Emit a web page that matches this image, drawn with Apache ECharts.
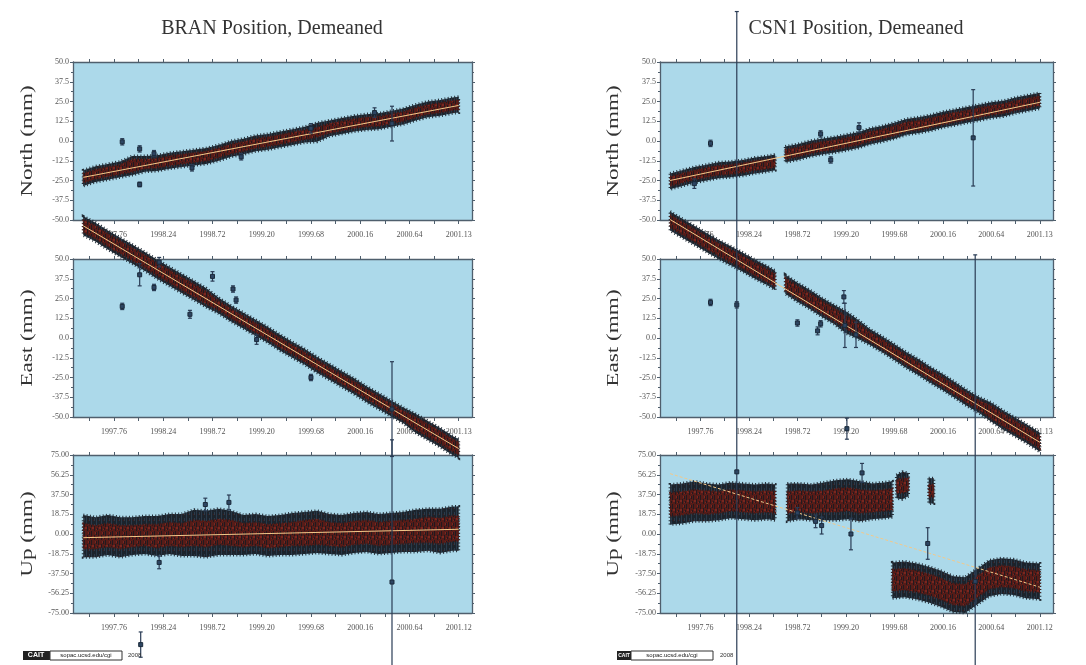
<!DOCTYPE html>
<html><head><meta charset="utf-8">
<script src="https://cdn.jsdelivr.net/npm/echarts@6/dist/echarts.min.js"></script>
<style>html,body{margin:0;padding:0;background:#fff}#c{width:1086px;height:665px}</style>
</head><body><div id="c"></div>
<script>
// ---------- axis ticks / labels ----------
const xTickValues = [1997.52,1997.76,1998.00,1998.24,1998.48,1998.72,1998.96,1999.20,1999.44,1999.68,1999.92,2000.16,2000.40,2000.64,2000.88,2001.12];
const xLabelValues = [1997.76,1998.24,1998.72,1999.20,1999.68,2000.16,2000.64,2001.12];
const xLabelsNE = ['1997.76','1998.24','1998.72','1999.20','1999.68','2000.16','2000.64','2001.13'];
const xLabelsUp = ['1997.76','1998.24','1998.72','1999.20','1999.68','2000.16','2000.64','2001.12'];
const titles = ['BRAN Position, Demeaned','CSN1 Position, Demeaned'];
const compNames = ['North (mm)','East (mm)','Up (mm)'];

// ---------- BRAN (dense daily solutions, read as band: centre, point spread, error-bar spread) ----------
const branT = [1997.46,1997.58,1997.70,1997.82,1997.94,1998.06,1998.18,1998.30,1998.42,1998.54,1998.66,1998.78,1998.90,1999.02,1999.14,1999.26,1999.38,1999.50,1999.62,1999.74,1999.86,1999.98,2000.10,2000.22,2000.34,2000.46,2000.58,2000.70,2000.82,2000.94,2001.06,2001.12];
const branNorthMid = [-23.5,-21,-19.5,-18,-15.5,-14.5,-14,-12.5,-11.5,-10.5,-9.5,-7.5,-5,-3.5,-1.5,-0.5,1,2.5,4,5.5,8,9.5,11,12,12.5,14,15.5,18,20,21,22.5,23];
const branNorthPts = [3,3,3,3,4,3,3,3,3,3,3,3,3,3,3,3,3,3,3,3,3,3,3,3,3,3,3,3,3,3,3,3];
const branNorthBar = [5,5,5,5,6,5,5,5,5,5,5,5,5,5,5,5,5,5,5,6,5,5,5,5,5,5,5,5,5,5,5,5];
const branEastMid = [71,67,62,57.5,53,48.5,43.5,39,34.5,30,25.5,20.5,15.5,11,6.5,2,-3,-7.5,-12,-17,-21.5,-26,-30.5,-35.5,-40,-44.5,-49,-54,-58.5,-63,-68,-70];
const branEastPts = [4,4,4,4,4,4,4,4,4,4,4,3,3,3,3,3,3,3,3,3,3,3,3,3,3,3,3,4,4,4,4,4];
const branEastBar = [6,6,6,6,6,6,6,6,6,6,6,5,5,5,5,5,5,5,5,5,5,5,5,5,5,5,5,6,6,6,6,6];
const branUpMid = [-2,-3,-1,-3,-2,-1,-2,0,-1,1,0,2,1,-1,0,-2,-1,0,1,2,0,-1,1,2,0,1,2,3,4,3,5,5];
const branUpPts = [12,11,11,11,10,10,11,11,11,12,12,12,12,11,11,11,11,11,12,12,11,11,11,11,11,11,11,11,12,12,12,12];
const branUpBar = [20,19,19,19,18,18,19,19,20,22,22,22,21,19,19,19,19,20,20,20,19,19,19,19,19,19,19,20,20,21,21,21];
const branNorthFit = [[1997.46,-23],[2001.12,22.5]];
const branEastFit = [[1997.46,71],[2001.12,-70]];
const branUpFit = [[1997.46,-3.5],[2001.12,4.5]];
// outliers [time, value, error]
const branNorthOut = [[1997.84,-0.5,2],[1998.01,-27.5,1.5],[1998.01,-5,2],[1998.15,-8,2],[1998.52,-17,2],[1999.00,-10,2],[1999.68,8,3],[2000.30,18,3],[2000.47,11,11]];
const branEastOut = [[1997.84,20,2],[1998.01,40,7],[1998.15,32,2],[1998.20,48,3],[1998.50,15,2.5],[1998.72,39,3],[1998.92,31,2],[1998.95,24,2],[1999.15,-1,3],[1999.68,-25,2],[2000.47,-45,30]];
const branUpOut = [[1998.20,-27,6],[1998.65,28,6],[1998.88,30,7],[1998.02,-105,12],[2000.47,-45.6,135]];

// ---------- CSN1 ----------
const csnT = [1997.46,1997.58,1997.70,1997.82,1997.94,1998.06,1998.18,1998.30,1998.42,1998.50,null,1998.60,1998.72,1998.84,1998.96,1999.08,1999.20,1999.32,1999.44,1999.56,1999.68,1999.80,1999.92,2000.04,2000.16,2000.28,2000.40,2000.52,2000.64,2000.76,2000.88,2001.00,2001.12];
const csnNorthMid = [-25.5,-23.5,-21.5,-20,-18.5,-18,-17,-15.5,-14.5,-13.5,null,-8.5,-7,-5,-3.5,-2.5,-1,0.5,3,4.5,6.5,9,10,11.5,13.5,15,16.5,18,19.5,20.5,22.5,24,25.5];
const csnNorthPts = [3,3,3,3,3,3,3,3,3,3,null,3,3,3,3,3,3,3,3,3,3,3,3,3,3,3,3,3,3,3,3,3,3];
const csnNorthBar = [5,5,5,5,5,5,5,5,5,5,null,5,5,5,5,5,5,5,5,5,5,5,5,5,5,5,5,5,5,5,5,5,5];
const csnEastMid = [74,69.5,65,60.5,56,52,48,43.5,39.5,36.5,null,34,29,24.5,19.5,15,10,5.5,0.5,-4,-9,-14,-18.5,-23.5,-28,-33,-38,-42.5,-47,-52,-56.5,-61,-66];
const csnEastPts = [4,4,4,4,4,4,4,4,4,4,null,4,4,4,4,4,4,4,3,3,3,3,3,3,3,3,3,3,4,4,4,4,4];
const csnEastBar = [6,6,6,6,6,6,6,6,6,6,null,6,6,6,6,6,7,6,5,5,5,5,5,5,5,5,5,5,6,6,6,6,6];
const csnUpT = [1997.46,1997.58,1997.70,1997.82,1997.94,1998.06,1998.18,1998.30,1998.42,1998.50,null,1998.62,1998.74,1998.86,1998.98,1999.10,1999.22,1999.34,1999.46,1999.58,1999.66,null,1999.70,1999.76,1999.82,null,2000.02,2000.07,null,1999.66,1999.78,1999.90,2000.02,2000.14,2000.26,2000.38,2000.50,2000.62,2000.74,2000.86,2000.98,2001.12];
const csnUpMid = [28,29,31,30,30,32,31,30,31,30,null,30,31,30,31,32,33,31,31,32,33,null,45,46,47,null,41,41,null,-44,-43,-45,-48,-52,-57,-58,-50,-42,-40,-41,-44,-45];
const csnUpPts = [11,11,11,11,10,10,10,10,10,10,null,10,10,10,10,11,11,11,10,10,10,null,6,7,6,null,6,6,null,10,10,10,10,10,10,10,10,10,10,10,10,10];
const csnUpBar = [19,19,19,18,17,17,17,17,17,17,null,18,17,17,18,19,19,19,17,17,17,null,11,13,11,null,12,12,null,17,17,17,17,17,17,17,17,17,17,17,17,17];
const csnNorthFit = [[1997.46,-25],[2001.12,24.5]];
const csnEastFit = [[1997.46,75],[2001.12,-66]];
const csnUpFit = [[1997.46,57.3],[2001.12,-50.5]];
const csnNorthOut = [[1997.86,-1.5,2],[1997.70,-27,3],[1998.95,4.5,2],[1999.05,-12,2],[1999.33,8.5,3],[2000.46,2,30.5]];
const csnEastOut = [[1997.86,22.5,2],[1998.12,21,2],[1998.72,9.5,2],[1998.92,4.5,2.5],[1998.95,9,2],[1999.18,26,4],[1999.19,8,14],[1999.30,2,8]];
const csnUpOut = [[1998.12,59,437],[1998.72,20,5],[1998.90,12,6],[1998.96,8,8],[1999.25,0,15],[1999.36,58,9],[1999.21,100,10],[2000.01,-9,15],[2000.48,-45,310]];

// ---------- build ----------
const cols = [
  {left:73, width:399, title:titles[0], tx:272, nameX:28,
   panels:[
     {T:branT, mid:branNorthMid, pts:branNorthPts, bar:branNorthBar, fit:branNorthFit, out:branNorthOut, kind:'NE', labels:xLabelsNE},
     {T:branT, mid:branEastMid, pts:branEastPts, bar:branEastBar, fit:branEastFit, out:branEastOut, kind:'NE', labels:xLabelsNE},
     {T:branT, mid:branUpMid, pts:branUpPts, bar:branUpBar, fit:branUpFit, out:branUpOut, kind:'U', labels:xLabelsUp}]},
  {left:660, width:393, title:titles[1], tx:856, nameX:614,
   panels:[
     {T:csnT, mid:csnNorthMid, pts:csnNorthPts, bar:csnNorthBar, fit:csnNorthFit, out:csnNorthOut, kind:'NE', labels:xLabelsNE},
     {T:csnT, mid:csnEastMid, pts:csnEastPts, bar:csnEastBar, fit:csnEastFit, out:csnEastOut, kind:'NE', labels:xLabelsNE},
     {T:csnUpT, mid:csnUpMid, pts:csnUpPts, bar:csnUpBar, fit:csnUpFit, out:csnUpOut, kind:'U', labels:xLabelsUp, dashed:true}]}
];
const tops = [62,259,455];
const H = 158;
const axisColor = '#4f5f6d';
const labelStyle = {fontFamily:'Liberation Serif', fontSize:8, color:'#555'};

// texture patterns (styling only)
function innerPattern(){
  const c = document.createElement('canvas'); c.width = 7; c.height = 9;
  const g = c.getContext('2d');
  g.fillStyle = '#561c18'; g.fillRect(0,0,7,9);
  g.fillStyle = '#221a1f'; g.fillRect(0,0,1,5); g.fillRect(3,4,1,5); g.fillRect(5,1,1,3); g.fillRect(6,6,1,2);
  g.fillStyle = '#7a2720'; g.fillRect(1,5,2,2); g.fillRect(4,1,1,2); g.fillRect(5,7,1,1);
  return c;
}
function outerPattern(){
  const c = document.createElement('canvas'); c.width = 5; c.height = 6;
  const g = c.getContext('2d');
  g.fillStyle = '#1c232b'; g.fillRect(0,0,5,6);
  g.fillStyle = '#2a3a4a'; g.fillRect(1,0,1,6); g.fillRect(4,2,1,3);
  g.fillStyle = '#3e1e1d'; g.fillRect(3,4,1,1);
  return c;
}
const patIn = innerPattern(), patOut = outerPattern();

function segments(T){
  const segs=[]; let cur=[];
  T.forEach((t,i)=>{ if(t==null){ if(cur.length) segs.push(cur); cur=[]; } else cur.push(i); });
  if(cur.length) segs.push(cur);
  return segs;
}

const grid=[], xAxis=[], yAxis=[], series=[], graphic=[];
let gi = 0;
cols.forEach((col)=>{
  graphic.push({type:'text', x:col.tx, y:29, style:{text:col.title, font:'20px "Liberation Serif"', fill:'#333', align:'center', verticalAlign:'middle'}, z:10});
  col.panels.forEach((p,pi)=>{
    const isU = p.kind==='U';
    grid.push({left:col.left, top:tops[pi], width:col.width, height:H, show:true, backgroundColor:'#acd9ea', borderWidth:0});
    xAxis.push({type:'value', gridIndex:gi, position:'bottom', min:1997.36, max:2001.25,
      axisLine:{show:true, onZero:false, lineStyle:{color:axisColor, width:1.3}},
      axisTick:{show:true, inside:false, length:4, customValues:xTickValues, lineStyle:{color:axisColor}},
      axisLabel:{show:true, margin:11, customValues:xLabelValues, ...labelStyle,
        formatter:(v)=>{ const k = xLabelValues.findIndex(a=>Math.abs(a-v)<1e-6); return k<0?'':p.labels[k]; }},
      splitLine:{show:false}});
    xAxis.push({type:'value', gridIndex:gi, position:'top', min:1997.36, max:2001.25,
      axisLine:{show:true, onZero:false, lineStyle:{color:axisColor, width:1.3}},
      axisTick:{show:true, inside:false, length:3, customValues:xTickValues, lineStyle:{color:axisColor}},
      axisLabel:{show:false}, splitLine:{show:false}});
    const ymin = isU?-75:-50, ymax = isU?75:50, yint = isU?18.75:12.5;
    yAxis.push({type:'value', gridIndex:gi, position:'left', min:ymin, max:ymax, interval:yint,
      axisLine:{show:true, onZero:false, lineStyle:{color:axisColor, width:1.3}},
      axisTick:{show:true, length:3, lineStyle:{color:axisColor}},
      minorTick:{show:true, splitNumber:2, length:2, lineStyle:{color:axisColor}},
      axisLabel:{margin:4, ...labelStyle, formatter:(v)=>v.toFixed(isU?2:1)},
      splitLine:{show:false}});
    yAxis.push({type:'value', gridIndex:gi, position:'right', min:ymin, max:ymax, interval:yint,
      axisLine:{show:true, onZero:false, lineStyle:{color:axisColor, width:1.3}},
      axisTick:{show:true, length:3, lineStyle:{color:axisColor}},
      minorTick:{show:true, splitNumber:2, length:2, lineStyle:{color:axisColor}},
      axisLabel:{show:false}, splitLine:{show:false}});
    const xi = 2*gi, yi = 2*gi;
    // band of daily solutions
    const segs = segments(p.T);
    series.push({type:'custom', xAxisIndex:xi, yAxisIndex:yi, clip:false, z:3, silent:true,
      data:[[p.T[0], p.mid[0]]],
      renderItem:(params, api)=>{
        const children=[];
        segs.forEach(s=>{
          const outer=[], inner=[];
          s.forEach(i=>outer.push(api.coord([p.T[i], p.mid[i]+p.bar[i]])));
          for(let j=s.length-1;j>=0;j--){const i=s[j]; outer.push(api.coord([p.T[i], p.mid[i]-p.bar[i]]));}
          s.forEach(i=>inner.push(api.coord([p.T[i], p.mid[i]+p.pts[i]])));
          for(let j=s.length-1;j>=0;j--){const i=s[j]; inner.push(api.coord([p.T[i], p.mid[i]-p.pts[i]]));}
          children.push({type:'polygon', shape:{points:outer}, style:{fill:{image:patOut, repeat:'repeat'}, stroke:'#222c36', lineWidth:3, lineDash:[1,2.3]}});
          children.push({type:'polygon', shape:{points:inner}, style:{fill:{image:patIn, repeat:'repeat'}, stroke:'#4e1b17', lineWidth:2, lineDash:[1,2]}});
        });
        return {type:'group', children};
      }});
    // fit line
    series.push({type:'line', xAxisIndex:xi, yAxisIndex:yi, data:p.fit, symbol:'none', clip:false, z:4, silent:true,
      lineStyle:{color:'#f3c98a', width:1, type:p.dashed?[3,2]:'solid'}});
    // outliers with error bars
    series.push({type:'custom', xAxisIndex:xi, yAxisIndex:yi, clip:false, z:5, silent:true,
      data:p.out,
      renderItem:(params, api)=>{
        const t=api.value(0), v=api.value(1), e=api.value(2);
        const a=api.coord([t, v+e]), b=api.coord([t, v-e]), c=api.coord([t, v]);
        return {type:'group', children:[
          {type:'line', shape:{x1:a[0],y1:a[1],x2:b[0],y2:b[1]}, style:{stroke:'#2a3c55', lineWidth:1.2}},
          {type:'line', shape:{x1:a[0]-2,y1:a[1],x2:a[0]+2,y2:a[1]}, style:{stroke:'#2a3c55', lineWidth:1.2}},
          {type:'line', shape:{x1:b[0]-2,y1:b[1],x2:b[0]+2,y2:b[1]}, style:{stroke:'#2a3c55', lineWidth:1.2}},
          {type:'rect', shape:{x:c[0]-2,y:c[1]-2,width:4,height:4}, style:{fill:'#2d4562', stroke:'#1b2a3a', lineWidth:1}}
        ]};
      }});
    // component name
    graphic.push({type:'text', x:col.nameX, y:tops[pi]+H/2, rotation:Math.PI/2, scaleX:1.45, scaleY:1,
      style:{text:compNames[pi], font:'16px "Liberation Serif"', fill:'#333', align:'center', verticalAlign:'middle'}, z:10});
    gi++;
  });
});

// small logos at the bottom
graphic.push(
  {type:'rect', shape:{x:23,y:651,width:27,height:9}, style:{fill:'#222'}, z:10},
  {type:'text', x:36, y:655.5, style:{text:'CAIT', font:'bold 7px "Liberation Sans"', fill:'#fff', align:'center', verticalAlign:'middle'}, z:11},
  {type:'rect', shape:{x:50,y:651,width:72,height:9}, style:{fill:'#fff', stroke:'#333', lineWidth:1}, z:10},
  {type:'text', x:86, y:655.5, style:{text:'sopac.ucsd.edu/cgi', font:'6px "Liberation Sans"', fill:'#222', align:'center', verticalAlign:'middle'}, z:11},
  {type:'text', x:128, y:655.5, style:{text:'2008', font:'6px "Liberation Sans"', fill:'#333', align:'left', verticalAlign:'middle'}, z:11},
  {type:'rect', shape:{x:617,y:651,width:14,height:9}, style:{fill:'#222'}, z:10},
  {type:'text', x:624, y:655.5, style:{text:'CAIT', font:'bold 5px "Liberation Sans"', fill:'#fff', align:'center', verticalAlign:'middle'}, z:11},
  {type:'rect', shape:{x:631,y:651,width:82,height:9}, style:{fill:'#fff', stroke:'#333', lineWidth:1}, z:10},
  {type:'text', x:672, y:655.5, style:{text:'sopac.ucsd.edu/cgi', font:'6px "Liberation Sans"', fill:'#222', align:'center', verticalAlign:'middle'}, z:11},
  {type:'text', x:720, y:655.5, style:{text:'2008', font:'6px "Liberation Sans"', fill:'#333', align:'left', verticalAlign:'middle'}, z:11}
);

const chart = echarts.init(document.getElementById('c'), null, {renderer:'canvas'});
chart.setOption({animation:false, backgroundColor:'#fff', grid, xAxis, yAxis, series, graphic});
</script></body></html>
